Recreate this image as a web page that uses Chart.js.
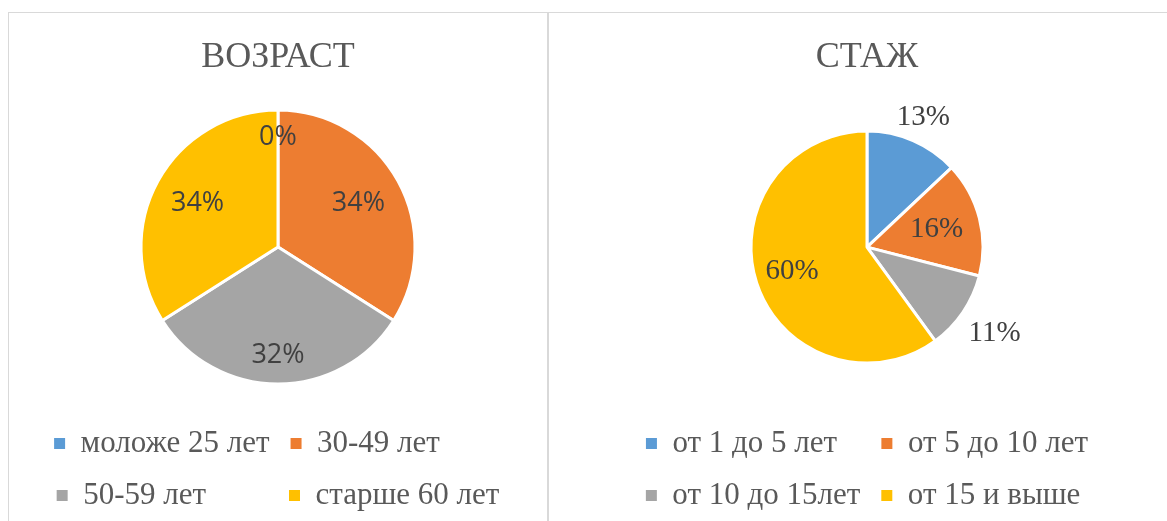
<!DOCTYPE html>
<html>
<head>
<meta charset="utf-8">
<script src="https://cdn.jsdelivr.net/npm/chart.js@4/dist/chart.umd.min.js"></script>
<style>
  html, body { margin: 0; padding: 0; background: #fff; overflow: hidden; }
  .box { position: absolute; top: 12px; height: 560px; border: 1px solid #d9d9d9; box-sizing: border-box; }
  canvas { position: absolute; left: 0; top: 0; }
</style>
</head>
<body>
<div class="box" style="left:8px;width:540px"><canvas id="ageChart" width="538" height="508"></canvas></div>
<div class="box" style="left:548px;width:660px"><canvas id="expChart" width="618" height="508"></canvas></div>
<script>
// data
const ageLabels = ["моложе 25 лет", "30-49 лет", "50-59 лет", "старше 60 лет"];
const ageValues = [0, 34, 32, 34];
const expLabels = ["от 1 до 5 лет", "от 5 до 10 лет", "от 10 до 15лет", "от 15 и выше"];
const expValues = [13, 16, 11, 60];
const sliceColors = ["#5b9bd5", "#ed7d31", "#a5a5a5", "#ffc000"];

const legendFont = { family: "Liberation Serif", size: 31 };

// percent labels placed along the slice middle angle
const pctLabels = {
  id: "pctLabels",
  afterDatasetsDraw(chart, args, opts) {
    const ctx = chart.ctx;
    const meta = chart.getDatasetMeta(0);
    const values = chart.data.datasets[0].data;
    const total = values.reduce((s, v) => s + v, 0);
    ctx.save();
    ctx.font = opts.font;
    ctx.fillStyle = opts.color;
    ctx.textAlign = "center";
    ctx.textBaseline = "middle";
    meta.data.forEach((arc, i) => {
      const p = arc.getProps(["x", "y", "startAngle", "endAngle", "outerRadius"], true);
      const mid = (p.startAngle + p.endAngle) / 2;
      const r = p.outerRadius * opts.radius[i];
      ctx.fillText(Math.round(values[i] / total * 100) + "%", p.x + Math.cos(mid) * r, p.y + Math.sin(mid) * r);
    });
    ctx.restore();
  }
};

// legend items padded so the two rows line up in columns (like Excel)
function gridLegendLabels(chart) {
  const items = Chart.overrides.pie.plugins.legend.labels.generateLabels(chart);
  const ctx = chart.ctx;
  ctx.save();
  ctx.font = legendFont.size + "px " + legendFont.family;
  const colW = [0, 0];
  items.forEach((it, i) => {
    colW[i % 2] = Math.max(colW[i % 2], ctx.measureText(it.text).width);
  });
  items.forEach((it, i) => {
    it.lineWidth = 0;
    while (ctx.measureText(it.text + " ").width <= colW[i % 2] + 1) it.text += " ";
  });
  ctx.restore();
  return items;
}

function makePie(id, title, labels, values, opts) {
  const ctx = document.getElementById(id).getContext("2d");
  return new Chart(ctx, {
    type: "pie",
    data: {
      labels: labels,
      datasets: [{
        data: values,
        backgroundColor: sliceColors,
        borderColor: "#ffffff",
        borderWidth: 3,
        hoverOffset: 0,
        radius: opts.pieRadius
      }]
    },
    plugins: [pctLabels],
    options: {
      responsive: false,
      animation: false,
      layout: { padding: { left: opts.padLeft, right: 0, top: 0, bottom: 0 } },
      plugins: {
        title: {
          display: true,
          text: title,
          color: "#595959",
          font: { family: "Liberation Serif", size: 36, weight: "normal" },
          padding: { top: 23, bottom: 8 }
        },
        legend: {
          position: "bottom",
          labels: {
            boxWidth: 11,
            boxHeight: 11,
            padding: 21,
            color: "#595959",
            font: legendFont,
            generateLabels: gridLegendLabels
          }
        },
        tooltip: { enabled: false },
        pctLabels: { font: opts.labelFont, color: "#404040", radius: opts.labelRadius }
      }
    }
  });
}

makePie("ageChart", "ВОЗРАСТ", ageLabels, ageValues, {
  padLeft: 0,
  pieRadius: 137,
  labelFont: "27px 'Open Sans'",
  labelRadius: [0.8, 0.67, 0.79, 0.67]
});

makePie("expChart", "СТАЖ", expLabels, expValues, {
  padLeft: 18,
  pieRadius: 116,
  labelFont: "29px 'Liberation Serif'",
  labelRadius: [1.22, 0.62, 1.33, 0.68]
});
</script>
</body>
</html>
